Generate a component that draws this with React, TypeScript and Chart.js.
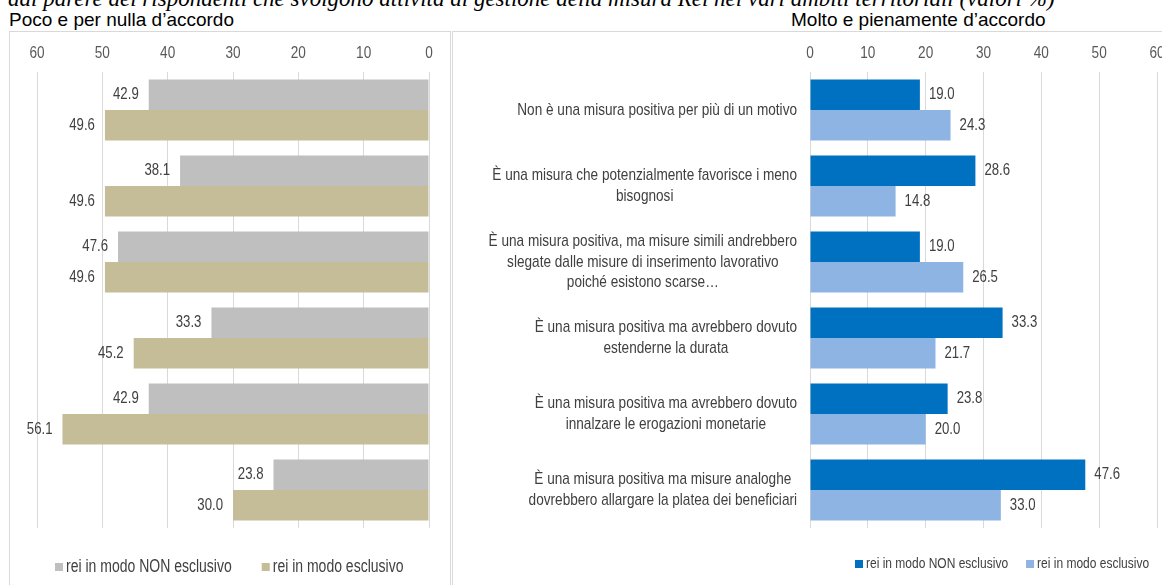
import React, { useEffect, useRef } from "react";
import { Chart, registerables } from "chart.js";

Chart.register(...registerables);

const categories: string[][] = [
  ["Non è una misura positiva per più di un motivo"],
  ["È una misura che potenzialmente favorisce i meno", "bisognosi"],
  [
    "È una misura positiva, ma misure simili andrebbero",
    "slegate dalle misure di inserimento lavorativo",
    "poiché esistono scarse…",
  ],
  ["È una misura positiva ma avrebbero dovuto", "estenderne la durata"],
  ["È una misura positiva ma avrebbero dovuto", "innalzare le erogazioni monetarie"],
  ["È una misura positiva ma misure analoghe", "dovrebbero allargare la platea dei beneficiari"],
];
const seriesNames = ["rei in modo NON esclusivo", "rei in modo esclusivo"];
const disagreeNonExclusive = [42.9, 38.1, 47.6, 33.3, 42.9, 23.8];
const disagreeExclusive = [49.6, 49.6, 49.6, 45.2, 56.1, 30.0];
const agreeNonExclusive = [19.0, 28.6, 19.0, 33.3, 23.8, 47.6];
const agreeExclusive = [24.3, 14.8, 26.5, 21.7, 20.0, 33.0];
const axisMin = 0;
const axisMax = 60;
const axisStep = 10;

const TITLE_TEXT =
  "dal parere dei rispondenti che svolgono attività di gestione della misura Rei nei vari ambiti territoriali (valori %)";
const LEFT_HEADING = "Poco e per nulla d’accordo";
const RIGHT_HEADING = "Molto e pienamente d’accordo";

const SANS = "'Liberation Sans', Arial, sans-serif";
const SQUEEZE = 0.8;
const TEXT_COLOR = "#404040";
const TICK_COLOR = "#595959";
const GRID_COLOR = "#d9d9d9";

function setFont(ctx: CanvasRenderingContext2D, size: number) {
  ctx.font = `${size}px ${SANS}`;
}
function narrowWidth(ctx: CanvasRenderingContext2D, text: string) {
  return ctx.measureText(text).width * SQUEEZE;
}
function drawNarrow(
  ctx: CanvasRenderingContext2D,
  text: string,
  x: number,
  y: number,
  align: CanvasTextAlign
) {
  ctx.save();
  ctx.translate(x, y);
  ctx.scale(SQUEEZE, 1);
  ctx.textAlign = align;
  ctx.textBaseline = "middle";
  ctx.fillText(text, 0, 0);
  ctx.restore();
}

const tickLabelPlugin = {
  id: "tickLabels",
  afterDraw(chart: any) {
    const ctx = chart.ctx;
    const xs = chart.scales.x;
    ctx.save();
    setFont(ctx, 17);
    ctx.fillStyle = TICK_COLOR;
    xs.ticks.forEach((t: any) => {
      drawNarrow(ctx, String(t.value), xs.getPixelForValue(t.value), chart.chartArea.top - 19, "center");
    });
    ctx.restore();
  },
};

const valueLabelPlugin = (side: "left" | "right") => ({
  id: "valueLabels",
  afterDatasetsDraw(chart: any) {
    const ctx = chart.ctx;
    ctx.save();
    setFont(ctx, 16.5);
    ctx.fillStyle = TEXT_COLOR;
    chart.data.datasets.forEach((ds: any, di: number) => {
      const meta = chart.getDatasetMeta(di);
      meta.data.forEach((bar: any, i: number) => {
        const v = Number(ds.data[i]).toFixed(1);
        if (side === "left") drawNarrow(ctx, v, bar.x - 10, bar.y, "right");
        else drawNarrow(ctx, v, bar.x + 9, bar.y, "left");
      });
    });
    ctx.restore();
  },
});

const categoryLabelPlugin = {
  id: "categoryLabels",
  afterDraw(chart: any) {
    const ctx = chart.ctx;
    const yScale = chart.scales.y;
    const rightEdge = chart.chartArea.left - 13;
    const lh = 20.5;
    ctx.save();
    setFont(ctx, 17);
    ctx.fillStyle = TEXT_COLOR;
    categories.forEach((lines, i) => {
      const py = yScale.getPixelForValue(i);
      const maxW = Math.max(...lines.map((l) => narrowWidth(ctx, l)));
      const cx = rightEdge - maxW / 2;
      const start = py - ((lines.length - 1) * lh) / 2;
      lines.forEach((l, k) => drawNarrow(ctx, l, cx, start + k * lh, "center"));
    });
    ctx.restore();
  },
};

const legendPlugin = (startX: number, y: number, size: number, gap: number) => ({
  id: "customLegend",
  afterDraw(chart: any) {
    const ctx = chart.ctx;
    ctx.save();
    setFont(ctx, size);
    let x = startX;
    chart.data.datasets.forEach((ds: any) => {
      ctx.fillStyle = ds.backgroundColor;
      ctx.fillRect(x, y - 4, 8, 8);
      x += 11;
      ctx.fillStyle = TEXT_COLOR;
      drawNarrow(ctx, ds.label, x, y, "left");
      x += narrowWidth(ctx, ds.label) + gap;
    });
    ctx.restore();
  },
});

function makeConfig(
  nonExcl: number[],
  excl: number[],
  colors: [string, string],
  reverse: boolean,
  padding: { left: number; right: number; top: number; bottom: number },
  plugins: any[]
): any {
  return {
    type: "bar",
    data: {
      labels: categories.map((c) => c.join(" ")),
      datasets: [
        {
          label: seriesNames[0],
          data: nonExcl,
          backgroundColor: colors[0],
          categoryPercentage: 0.8,
          barPercentage: 1.0,
        },
        {
          label: seriesNames[1],
          data: excl,
          backgroundColor: colors[1],
          categoryPercentage: 0.8,
          barPercentage: 1.0,
        },
      ],
    },
    options: {
      indexAxis: "y",
      responsive: false,
      maintainAspectRatio: false,
      animation: false,
      layout: { padding },
      scales: {
        x: {
          position: "top",
          reverse,
          min: axisMin,
          max: axisMax,
          ticks: { stepSize: axisStep, display: false },
          grid: { color: GRID_COLOR, drawTicks: false },
          border: { display: false },
        },
        y: { display: false },
      },
      plugins: {
        legend: { display: false },
        tooltip: { enabled: false },
      },
    },
    plugins: [tickLabelPlugin, ...plugins],
  };
}

function BarPanel(props: { width: number; height: number; config: any }) {
  const ref = useRef<HTMLCanvasElement>(null);
  useEffect(() => {
    if (!ref.current) return;
    const chart = new Chart(ref.current, props.config);
    return () => chart.destroy();
  }, []);
  return (
    <canvas
      ref={ref}
      width={props.width}
      height={props.height}
      style={{ width: props.width, height: props.height, display: "block" }}
    />
  );
}

const headingStyle: React.CSSProperties = {
  position: "absolute",
  top: 10,
  fontFamily: SANS,
  fontSize: 19,
  lineHeight: "20px",
  whiteSpace: "nowrap",
  color: "#000",
};

export default function App() {
  const leftConfig = makeConfig(
    disagreeNonExclusive,
    disagreeExclusive,
    ["#BFBFBF", "#C4BD97"],
    true,
    { left: 27, right: 21, top: 40, bottom: 57 },
    [valueLabelPlugin("left"), legendPlugin(45, 535, 17.5, 30)]
  );
  const rightConfig = makeConfig(
    agreeNonExclusive,
    agreeExclusive,
    ["#0070C0", "#8DB4E2"],
    false,
    { left: 357, right: 16, top: 40, bottom: 57 },
    [valueLabelPlugin("right"), categoryLabelPlugin, legendPlugin(402, 532, 15, 18)]
  );
  return (
    <div
      style={{
        position: "fixed",
        left: 0,
        top: 0,
        width: 1162,
        height: 585,
        overflow: "hidden",
        background: "#ffffff",
      }}
    >
      <div
        style={{
          position: "absolute",
          left: 8,
          top: -13,
          fontFamily: "'Liberation Serif', 'Times New Roman', serif",
          fontStyle: "italic",
          fontSize: 23,
          lineHeight: "23px",
          whiteSpace: "nowrap",
          color: "#000",
        }}
      >
        {TITLE_TEXT}
      </div>
      <div style={{ ...headingStyle, left: 9 }}>{LEFT_HEADING}</div>
      <div style={{ ...headingStyle, left: 791 }}>{RIGHT_HEADING}</div>
      <div
        style={{
          position: "absolute",
          left: 9,
          top: 31,
          width: 440,
          height: 600,
          border: `1px solid ${GRID_COLOR}`,
        }}
      >
        <BarPanel width={440} height={553} config={leftConfig} />
      </div>
      <div
        style={{
          position: "absolute",
          left: 452,
          top: 31,
          width: 740,
          height: 600,
          border: `1px solid ${GRID_COLOR}`,
        }}
      >
        <BarPanel width={720} height={553} config={rightConfig} />
      </div>
    </div>
  );
}
